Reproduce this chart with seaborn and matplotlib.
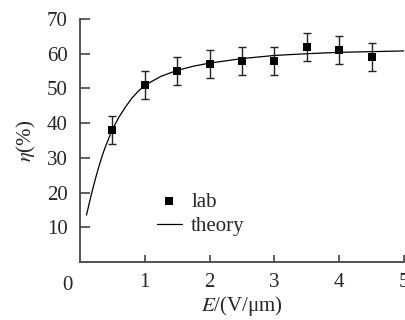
import matplotlib
matplotlib.use("Agg")
import matplotlib.pyplot as plt
import pandas as pd
import seaborn as sns

# measured points (E in V/um, efficiency in %), error +-4
LAB_E = [0.5, 1.0, 1.5, 2.0, 2.5, 3.0, 3.5, 4.0, 4.5]
LAB_ETA = [38, 51, 55, 57, 58, 58, 62, 61, 59]
LAB_ERR = [4, 4, 4, 4, 4, 4, 4, 4, 4]

# theory curve
THEORY_E = [0.1, 0.15, 0.2, 0.25, 0.3, 0.35, 0.4, 0.5, 0.6, 0.7, 0.8, 0.9,
            1.0, 1.25, 1.5, 1.75, 2.0, 2.5, 3.0, 3.5, 4.0, 4.5, 5.0]
THEORY_ETA = [13.5, 17.5, 21.3, 24.8, 28.0, 31.0, 33.6, 38.2, 41.7, 44.6,
              47.2, 49.2, 50.9, 53.5, 55.2, 56.4, 57.3, 58.6, 59.5, 60.0,
              60.4, 60.6, 60.8]

X_TICKS = [1, 2, 3, 4, 5]
Y_TICKS = [10, 20, 30, 40, 50, 60, 70]
FS = 15


def main():
    sns.set_theme(style="ticks")
    plt.rcParams["font.family"] = ["Liberation Serif", "DejaVu Serif"]
    plt.rcParams["mathtext.fontset"] = "stix"

    lab_df = pd.DataFrame({"E": LAB_E, "eta": LAB_ETA, "err": LAB_ERR})
    theory_df = pd.DataFrame({"E": THEORY_E, "eta": THEORY_ETA})

    fig = plt.figure(figsize=(4.05, 3.2), dpi=100)
    ax = fig.add_axes([80 / 405, 58 / 320, 324 / 405, 243 / 320])

    sns.lineplot(ax=ax, data=theory_df, x="E", y="eta", color="black",
                 linewidth=0.9, label="theory")
    ax.errorbar(lab_df["E"], lab_df["eta"], yerr=lab_df["err"], fmt="none",
                ecolor="#222222", elinewidth=1.0, capsize=3, capthick=1.0)
    sns.scatterplot(ax=ax, data=lab_df, x="E", y="eta", marker="s", s=30,
                    color="black", edgecolor="black", linewidth=0, label="lab",
                    zorder=5)

    ax.set_xlim(0, 5)
    ax.set_ylim(0, 70)
    ax.set_xticks(X_TICKS)
    ax.set_yticks(Y_TICKS)
    ax.tick_params(axis="y", direction="in", length=7, width=1.2,
                   color="#444444", labelsize=FS, pad=9)
    ax.tick_params(axis="x", direction="in", length=5, width=1.2,
                   color="#444444", labelsize=FS, pad=8)
    for side in ["top", "right"]:
        ax.spines[side].set_visible(False)
    for side in ["left", "bottom"]:
        ax.spines[side].set_color("#444444")
        ax.spines[side].set_linewidth(1.3)

    ax.text(-0.2, -6.8, "0", fontsize=FS, ha="center", va="center",
            clip_on=False)
    ax.set_xlabel("$E$/(V/\u03bcm)", fontsize=FS, labelpad=1)
    ax.set_ylabel("$\\eta$(%)", fontsize=FS, labelpad=6)

    handles, labels = ax.get_legend_handles_labels()
    order = [labels.index("lab"), labels.index("theory")]
    ax.legend([handles[i] for i in order], [labels[i] for i in order],
              loc="lower left", bbox_to_anchor=(0.192, 0.045), frameon=False,
              fontsize=FS, handlelength=1.2, handletextpad=0.45,
              labelspacing=0.25, borderpad=0.2)

    fig.savefig("out.png", dpi=100)
    plt.close(fig)


if __name__ == "__main__":
    main()
